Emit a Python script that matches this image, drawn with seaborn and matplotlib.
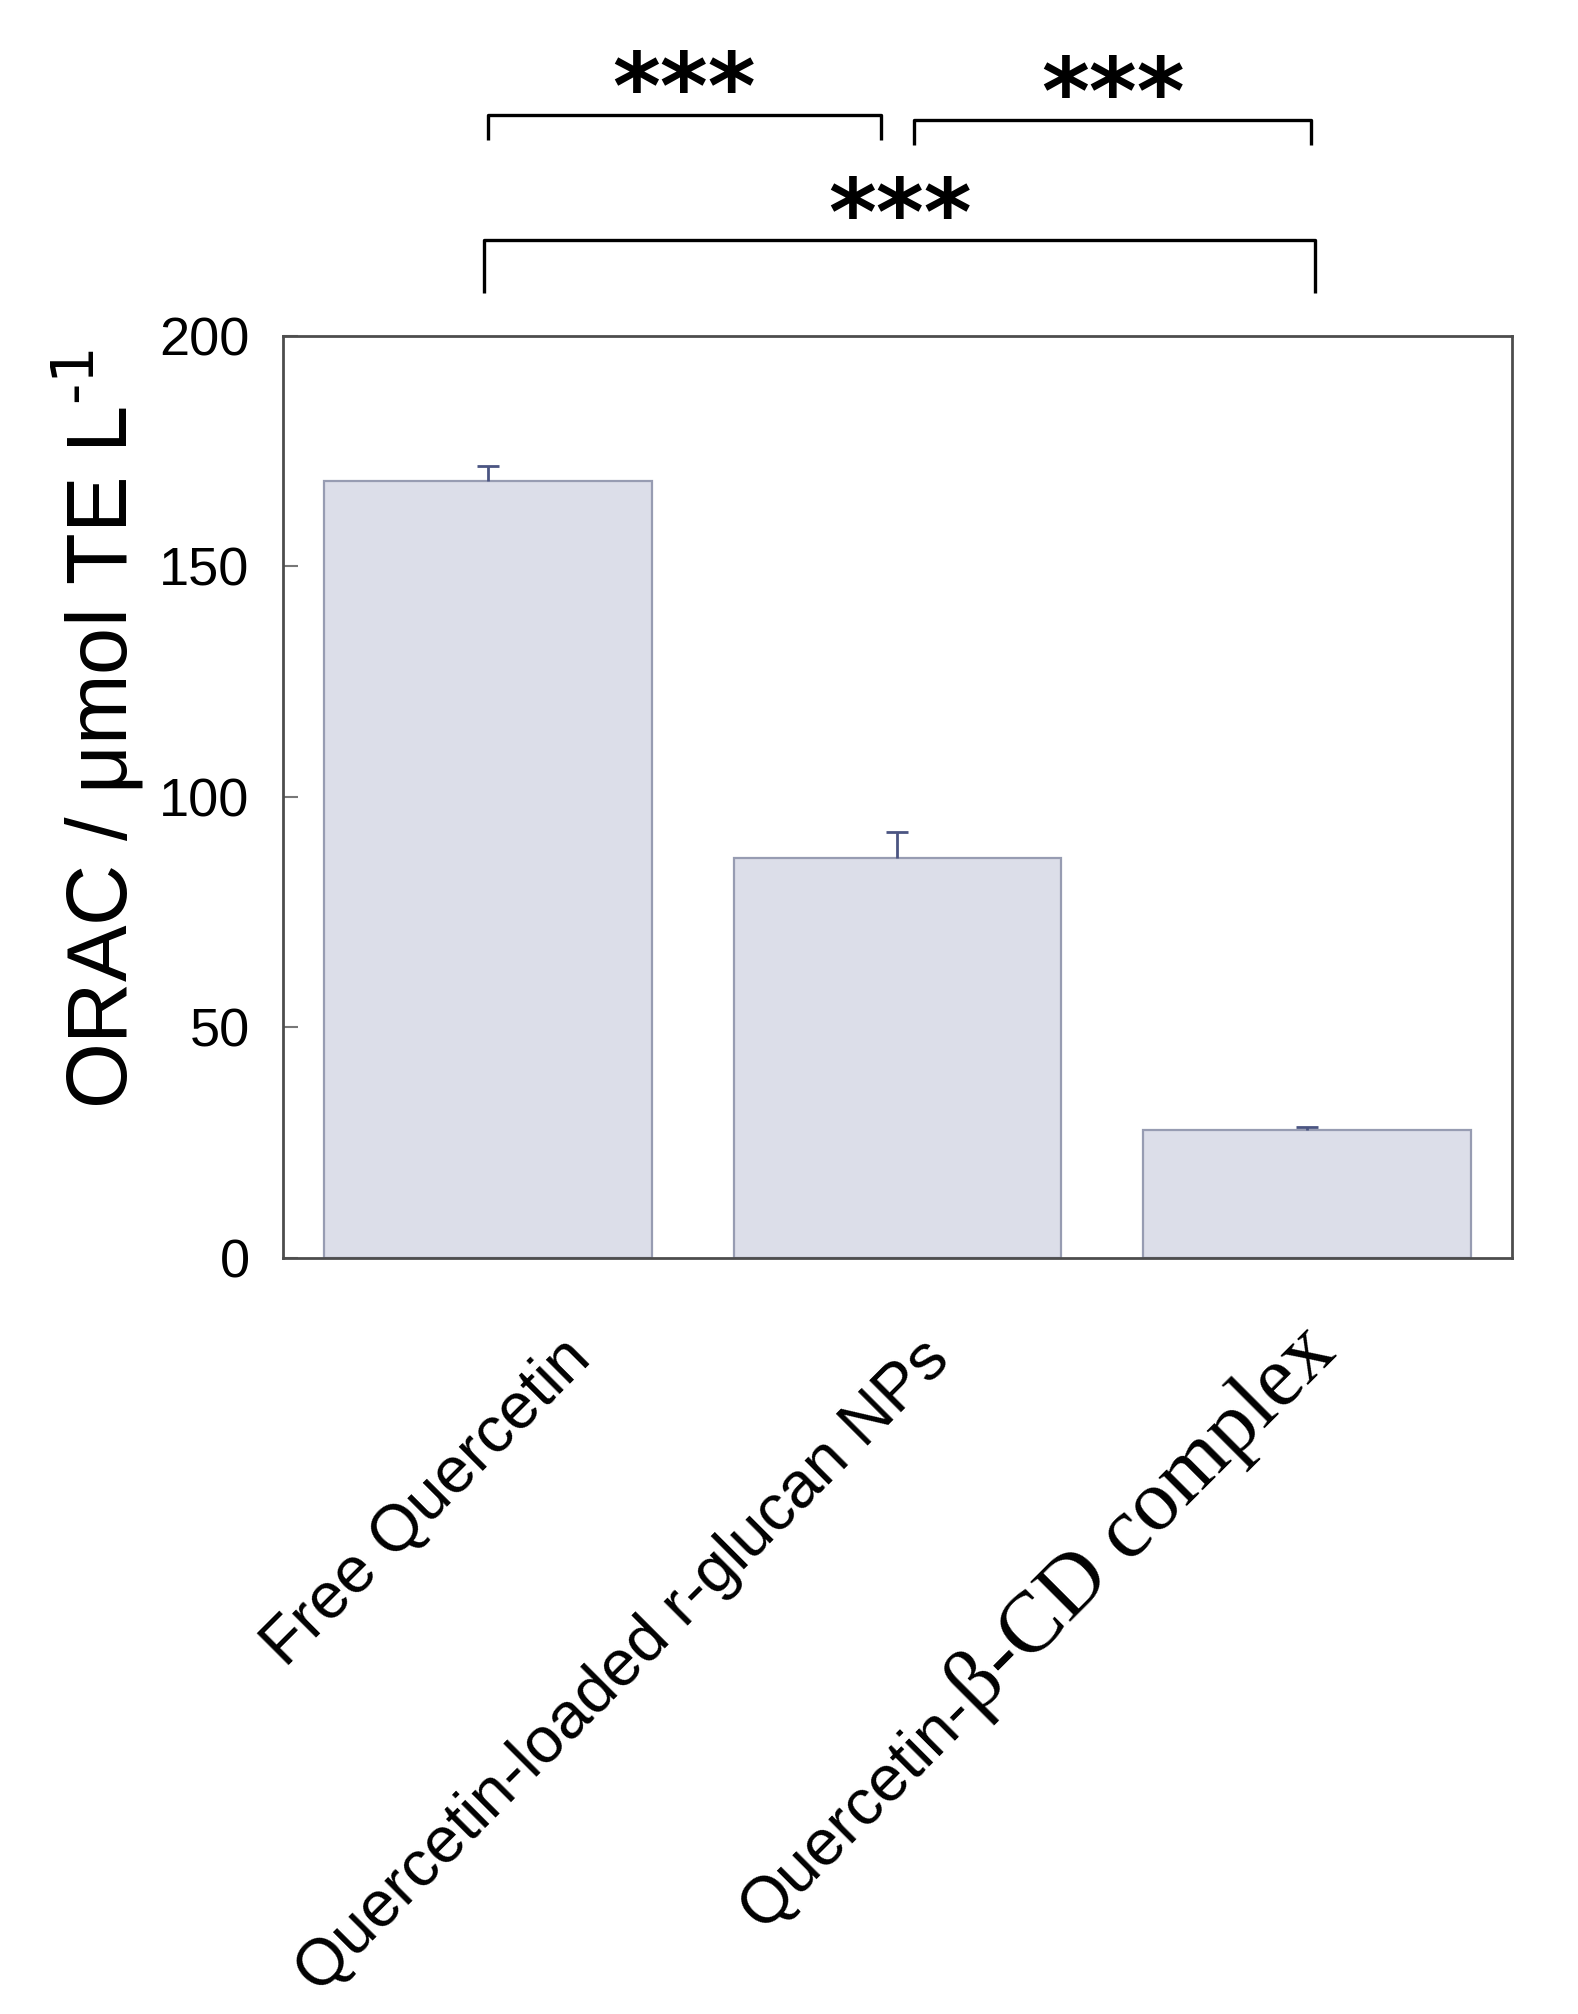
import matplotlib
matplotlib.use("Agg")
import matplotlib.pyplot as plt
import matplotlib.transforms as mtransforms
import seaborn as sns
import numpy as np

# datos
categories = ["Free Quercetin", "Quercetin-loaded r-glucan NPs", "Quercetin-\u03b2-CD complex"]
orac_values = [168.6, 86.7, 27.7]
orac_err = [3.1, 5.7, 0.6]
y_ticks = [0, 50, 100, 150, 200]
pairs = [(0, 1), (1, 2), (0, 2)]
sig_labels = ["***", "***", "***"]

sns.set_style("white")
plt.rcParams["font.family"] = ["Liberation Sans", "DejaVu Sans"]
for key in ["text.color", "axes.labelcolor", "xtick.color", "ytick.color"]:
    plt.rcParams[key] = "black"

DPI = 100
fig = plt.figure(figsize=(15.78, 20.14), dpi=DPI)
ax = fig.add_axes([0.1793, 0.3755, 0.7789, 0.4577])

sns.barplot(x=list(range(len(categories))), y=orac_values, color="#dcdee9",
            saturation=1, width=0.8, edgecolor="#979cb2", linewidth=1.6,
            errorbar=None, ax=ax)
# solo barra de error superior
_, caps, _ = ax.errorbar(range(len(categories)), orac_values,
                         yerr=[np.zeros(len(orac_err)), orac_err], fmt="none",
                         ecolor="#4b5582", elinewidth=2, capsize=8, capthick=2, zorder=5)
caps[0].set_visible(False)

ax.set_xlim(-0.5, len(categories) - 0.5)
ax.set_ylim(0, 200)
ax.set_yticks(y_ticks)
ax.set_xticks(range(len(categories)))
ax.set_xticklabels([])
ax.set_xticks([0.5, 1.5], minor=True)
ax.tick_params(axis="x", which="major", length=0)
ax.tick_params(axis="x", which="minor", direction="in", length=11, width=1.5, color="#666666")
ax.tick_params(axis="y", direction="in", length=11, width=1.5, color="#777777",
               labelsize=39, pad=24, left=True, labelcolor="black")
for s in ax.spines.values():
    s.set_visible(True)
    s.set_color("#4d4d4d")
    s.set_linewidth(2)

ax.set_ylabel(r"ORAC / μmol TE L$^{\text{-1}}$", fontsize=61)
ax.yaxis.set_label_coords(-0.112, 0.574)

# etiquetas del eje x giradas (desplazamientos en pixeles)
label_dx = [105, 54, 31]
label_dy = [-103, -104, -97]
base = ax.get_xaxis_transform()
renderer = fig.canvas.get_renderer()
for i, lab in enumerate(categories):
    off = mtransforms.ScaledTranslation(label_dx[i] / DPI, label_dy[i] / DPI, fig.dpi_scale_trans)
    if "\u03b2" not in lab:
        ax.text(i, 0, lab, transform=base + off, rotation=45, rotation_mode="anchor",
                ha="right", va="baseline", fontsize=47)
    else:
        head, tail = lab.split("\u03b2", 1)
        tail = "\u03b2" + tail
        serif_kw = dict(fontsize=62, family=["Liberation Serif", "DejaVu Serif"])
        tmp = fig.text(0, 0, tail, **serif_kw)
        w = tmp.get_window_extent(renderer).width
        tmp.remove()
        ax.text(i, 0, tail, transform=base + off, rotation=45, rotation_mode="anchor",
                ha="right", va="baseline", **serif_kw)
        d = w * np.cos(np.pi / 4)
        off2 = mtransforms.ScaledTranslation((label_dx[i] - d) / DPI, (label_dy[i] - d) / DPI,
                                             fig.dpi_scale_trans)
        ax.text(i, 0, head, transform=base + off2, rotation=45, rotation_mode="anchor",
                ha="right", va="baseline", fontsize=47)

# corchetes de significancia
bracket_top = [248.0, 246.9, 220.8]
bracket_bot = [242.5, 241.5, 209.3]
bracket_inset = [(0.0, 0.04), (0.04, -0.01), (-0.01, -0.02)]
for k, (a, b) in enumerate(pairs):
    x0 = a + bracket_inset[k][0]
    x1 = b - bracket_inset[k][1]
    ax.plot([x0, x0, x1, x1], [bracket_bot[k], bracket_top[k], bracket_top[k], bracket_bot[k]],
            color="black", lw=2.4, clip_on=False, solid_capstyle="butt")
    ax.text((x0 + x1) / 2, bracket_top[k] - 1, sig_labels[k], ha="center", va="baseline",
            fontsize=66, fontweight="bold", family="DejaVu Sans", clip_on=False)

fig.savefig("out.png", dpi=DPI)
